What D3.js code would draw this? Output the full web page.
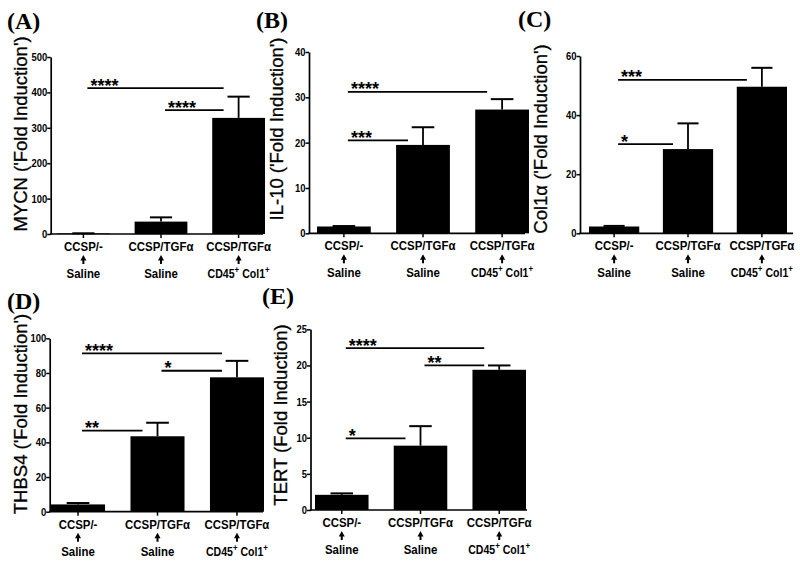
<!DOCTYPE html>
<html><head><meta charset="utf-8">
<script src="https://cdn.jsdelivr.net/npm/d3@7"></script>
<style>
body{margin:0;background:#fff}
svg{display:block}
</style></head>
<body>
<svg id="chart" width="800" height="566"></svg>
<script>
// ---------- data ----------
const groupTop = ["CCSP/-", "CCSP/TGFα", "CCSP/TGFα"];
const groupBottom = ["Saline", "Saline", "CD45+ Col1+"];

const panelLetters = ["(A)", "(B)", "(C)", "(D)", "(E)"];
const yTitles = ["MYCN ('Fold Induction')", "IL-10 ('Fold Induction')", "Col1α ('Fold Induction')",
                 "THBS4 ('Fold Induction')", "TERT (Fold Induction)"];

const mycnMean = [1.5, 35, 328];
const mycnErr  = [0.5, 12, 60];
const il10Mean = [1.5, 19.5, 27.3];
const il10Err  = [0.1, 3.9, 2.3];
const col1Mean = [2.3, 28.5, 49.6];
const col1Err  = [0.2, 8.7, 6.4];
const thbs4Mean = [4.2, 43.5, 77.5];
const thbs4Err  = [0.8, 7.8, 9.5];
const tertMean = [2.1, 8.9, 19.4];
const tertErr  = [0.2, 2.7, 0.6];

const mycnTicks = [0, 100, 200, 300, 400, 500];
const il10Ticks = [0, 10, 20, 30, 40];
const col1Ticks = [0, 20, 40, 60];
const thbs4Ticks = [0, 20, 40, 60, 80, 100];
const tertTicks = [0, 5, 10, 15, 20, 25];

// significance: [from group, to group, y value, stars]
const mycnSig = [[0, 2, 412, "****"], [1, 2, 350, "****"]];
const il10Sig = [[0, 2, 31.2, "****"], [0, 1, 20.5, "***"]];
const col1Sig = [[0, 2, 51.9, "***"], [0, 1, 30.2, "*"]];
const thbs4Sig = [[0, 2, 91.3, "****"], [1, 2, 81.3, "*"], [0, 1, 46.7, "**"]];
const tertSig = [[0, 2, 22.4, "****"], [1, 2, 20.0, "**"], [0, 1, 9.9, "*"]];

const means = [mycnMean, il10Mean, col1Mean, thbs4Mean, tertMean];
const errs = [mycnErr, il10Err, col1Err, thbs4Err, tertErr];
const ticks = [mycnTicks, il10Ticks, col1Ticks, thbs4Ticks, tertTicks];
const sigs = [mycnSig, il10Sig, col1Sig, thbs4Sig, tertSig];

// ---------- layout ----------
const layout = [
  {x0: 50.7, x1: 263, yTop: 57, yBot: 234, bandStart: 57, bandEnd: 265, titleX: 27, titleCY: 134, lx: 7, ly: 29},
  {x0: 309, x1: 525, yTop: 52, yBot: 233.3, bandStart: 317, bandEnd: 529, titleX: 283, titleCY: 129, lx: 256, ly: 28},
  {x0: 580, x1: 793, yTop: 56, yBot: 233.3, bandStart: 589, bandEnd: 787, titleX: 547, titleCY: 139, lx: 518, ly: 27},
  {x0: 49.7, x1: 263, yTop: 338.3, yBot: 511.7, bandStart: 51, bandEnd: 264, titleX: 27, titleCY: 414, lx: 7, ly: 309},
  {x0: 310.5, x1: 527, yTop: 329.3, yBot: 510, bandStart: 315, bandEnd: 526, titleX: 287, titleCY: 415, lx: 262, ly: 304}
];

const svg = d3.select("#chart");
const sans = "Arial, 'Liberation Sans', Helvetica, sans-serif";
const narrow = 0.88;
const tickNarrow = 0.86;

layout.forEach((L, p) => {
  const g = svg.append("g");
  const idx = [0, 1, 2];
  const x = d3.scaleBand().domain(idx).range([L.bandStart, L.bandEnd]).paddingInner(0.32).paddingOuter(0);
  const tv = ticks[p];
  const y = d3.scaleLinear().domain([0, d3.max(tv)]).range([L.yBot, L.yTop]);
  const bw = x.bandwidth();
  const cx = i => x(i) + bw / 2;

  // bars
  g.selectAll("rect.bar").data(idx).join("rect")
    .attr("x", i => x(i)).attr("width", bw)
    .attr("y", i => y(means[p][i])).attr("height", i => L.yBot - y(means[p][i]))
    .attr("fill", "#000");

  // error bars (upper)
  const capW = bw * 0.42;
  g.selectAll("line.ev").data(idx).join("line")
    .attr("x1", cx).attr("x2", cx)
    .attr("y1", i => y(means[p][i])).attr("y2", i => y(means[p][i] + errs[p][i]))
    .attr("stroke", "#000").attr("stroke-width", 1.8);
  g.selectAll("line.ec").data(idx).join("line")
    .attr("x1", i => cx(i) - capW / 2).attr("x2", i => cx(i) + capW / 2)
    .attr("y1", i => y(means[p][i] + errs[p][i])).attr("y2", i => y(means[p][i] + errs[p][i]))
    .attr("stroke", "#000").attr("stroke-width", 2);

  // y axis
  const yAxis = d3.axisLeft(y).tickValues(tv).tickSize(3.5).tickSizeOuter(0).tickFormat(d3.format("d"));
  const ya = g.append("g").attr("transform", `translate(${L.x0},0)`).call(yAxis);
  ya.select(".domain").attr("stroke", "#000").attr("stroke-width", 1.7);
  ya.selectAll(".tick line").attr("stroke", "#000").attr("stroke-width", 1.5);
  ya.selectAll(".tick text").attr("x", -3.5 / tickNarrow).attr("transform", `scale(${tickNarrow},1)`)
    .attr("font-family", sans).attr("font-weight", "bold")
    .attr("font-size", 11).attr("fill", "#000");

  // x axis line + ticks
  g.append("line").attr("x1", L.x0 - 0.8).attr("x2", L.x1).attr("y1", L.yBot).attr("y2", L.yBot)
    .attr("stroke", "#000").attr("stroke-width", 1.7);
  g.selectAll("line.xt").data(idx).join("line")
    .attr("x1", cx).attr("x2", cx).attr("y1", L.yBot).attr("y2", L.yBot + 4)
    .attr("stroke", "#000").attr("stroke-width", 1.5);

  // x labels (condensed bold)
  g.selectAll("text.xl1").data(idx).join("text")
    .attr("transform", i => `translate(${cx(i)},${L.yBot + 17}) scale(${narrow},1)`)
    .attr("text-anchor", "middle")
    .attr("font-family", sans).attr("font-weight", "bold").attr("font-size", 13)
    .text(i => groupTop[i]);
  // arrows
  g.selectAll("path.arrow").data(idx).join("path")
    .attr("d", i => `M${cx(i)},${L.yBot + 21} l-3,5.5 l6,0 z`)
    .attr("fill", "#000");
  g.selectAll("line.arrow").data(idx).join("line")
    .attr("x1", cx).attr("x2", cx).attr("y1", L.yBot + 25).attr("y2", L.yBot + 30)
    .attr("stroke", "#000").attr("stroke-width", 2);
  g.selectAll("text.xl2").data(idx).join("text")
    .attr("transform", i => `translate(${cx(i)},${L.yBot + 44}) scale(${narrow},1)`)
    .attr("text-anchor", "middle")
    .attr("font-family", sans).attr("font-weight", "bold").attr("font-size", 13)
    .each(function (i) {
      const t = d3.select(this);
      const parts = groupBottom[i].split(" ");
      if (groupBottom[i].includes("+")) {
        t.attr("font-size", 12);
        parts.forEach((w, k) => {
          const base = w.replace("+", "");
          t.append("tspan").attr("dy", k === 0 ? 0 : 5).text((k === 0 ? "" : " ") + base);
          t.append("tspan").attr("dy", -5).attr("font-size", 9).text("+");
        });
      } else {
        t.text(groupBottom[i]);
      }
    });

  // significance bars
  sigs[p].forEach(s => {
    const xa = cx(s[0]) + 4, xb = cx(s[1]) - 15, yy = y(s[2]);
    g.append("line").attr("x1", xa).attr("x2", xb).attr("y1", yy).attr("y2", yy)
      .attr("stroke", "#000").attr("stroke-width", 1.8);
    g.append("text").attr("x", xa + 3).attr("y", yy + 3.5)
      .attr("font-family", sans).attr("font-weight", "bold").attr("font-size", 18)
      .text(s[3]);
  });

  // y title
  g.append("text")
    .attr("transform", `translate(${L.titleX},${L.titleCY}) rotate(-90)`)
    .attr("text-anchor", "middle").attr("font-family", sans).attr("font-size", 18.5)
    .attr("stroke", "#000").attr("stroke-width", 0.3)
    .text(yTitles[p]);

  // panel letter
  g.append("text").attr("x", L.lx).attr("y", L.ly)
    .attr("font-family", "'Times New Roman', 'Liberation Serif', serif").attr("font-weight", "bold")
    .attr("font-size", 24).text(panelLetters[p]);
});
</script>
</body></html>
